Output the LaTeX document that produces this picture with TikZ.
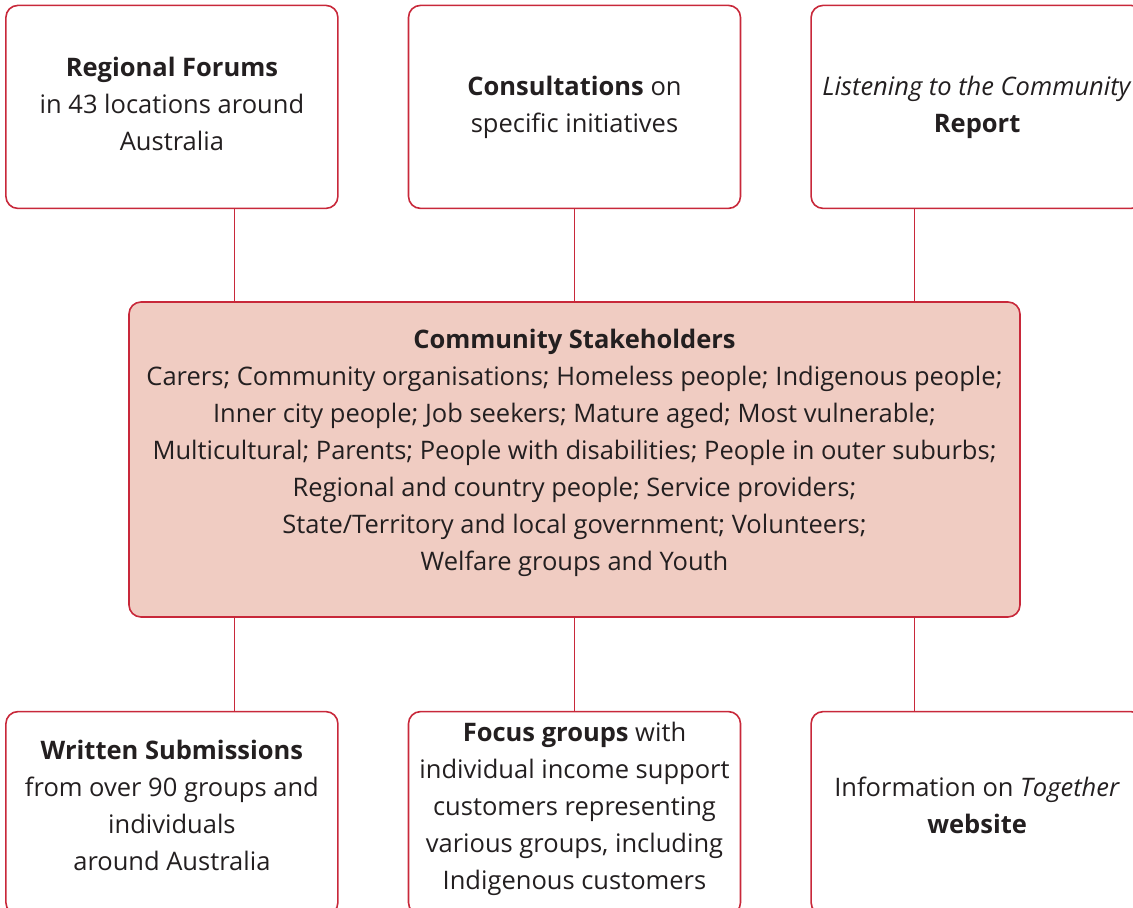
\documentclass[tikz,border=0pt]{standalone}
\usepackage{fontspec}
\setmainfont{Open Sans}
\usetikzlibrary{positioning,calc}
\definecolor{linkred}{RGB}{200,40,58}
\definecolor{stakefill}{RGB}{240,204,194}
\definecolor{inkcolor}{RGB}{35,31,32}
\tikzset{
  box/.style={rectangle, draw=linkred, line width=1.6pt, rounded corners=12pt, fill=white,
    minimum width=332pt, minimum height=203pt, align=center, text=inkcolor,
    font=\fontsize{25.5}{37}\selectfont},
  source/.style={box, execute at end node=\rule[-15.4pt]{0pt}{15.4pt}},
  upper/.style={box, execute at end node=\rule[-5.4pt]{0pt}{5.4pt}},
  hub/.style={rectangle, draw=linkred, line width=1.6pt, rounded corners=12pt, fill=stakefill,
    minimum width=891pt, minimum height=315pt, align=center, text=inkcolor,
    font=\fontsize{25.5}{37}\selectfont,
    execute at end node=\rule[-18.4pt]{0pt}{18.4pt}},
  link/.style={draw=linkred, line width=1.6pt},
}

\begin{document}
\begin{tikzpicture}[x=1pt, y=1pt, node distance=92pt and 69pt]
\useasboundingbox (0,0) rectangle (1133,-908);

\node[hub] (stake) at (574.5,-459.5) {\textbf{Community Stakeholders}\\
  Carers; Community organisations; Homeless people; Indigenous people;\\
  Inner city people; Job seekers; Mature aged; Most vulnerable;\\
  Multicultural; Parents; People with disabilities; People in outer suburbs;\\
  Regional and country people; Service providers;\\
  State/Territory and local government; Volunteers;\\
  Welfare groups and Youth};

% sources above the stakeholders
\node[upper, above=92pt of stake] (consult) {\textbf{Consultations} on\\specific initiatives};
\node[upper, left=of consult] (forums) {\textbf{Regional Forums}\\in 43 locations around\\Australia};
\node[upper, right=of consult] (report) {\textit{Listening to the Community}\\\textbf{Report}};

% sources below
\node[source, below=93pt of stake] (focus) {\textbf{Focus groups} with\\individual income support\\customers representing\\various groups, including\\Indigenous customers};
\node[source, left=of focus] (written) {\textbf{Written Submissions}\\from over 90 groups and\\individuals\\around Australia};
\node[source, right=of focus] (website) {Information on \textit{Together}\\\textbf{website}};

\draw[link] (consult) -- (stake);
\draw[link] (focus) -- (stake);
\draw[link] ([xshift=-340pt]stake.north) -- ([xshift=-340pt]stake.north |- forums.south);
\draw[link] ([xshift=340pt]stake.north) -- ([xshift=340pt]stake.north |- report.south);
\draw[link] ([xshift=-340pt]stake.south) -- ([xshift=-340pt]stake.south |- written.north);
\draw[link] ([xshift=340pt]stake.south) -- ([xshift=340pt]stake.south |- website.north);

\end{tikzpicture}
\end{document}
